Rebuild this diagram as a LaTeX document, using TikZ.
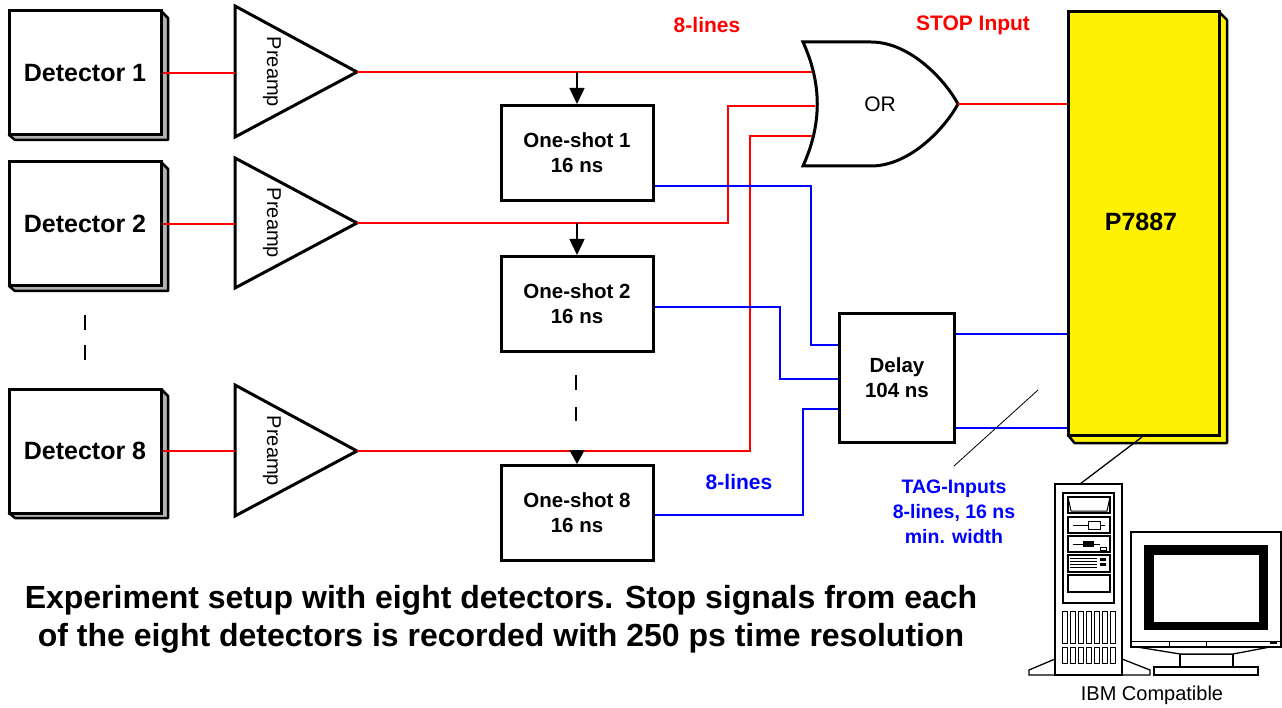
\documentclass[tikz,border=0pt]{standalone}
\usepackage{fontspec}
\setmainfont{Liberation Sans}
\usetikzlibrary{arrows.meta,backgrounds,positioning,calc}

\tikzset{
  detbox/.style={draw,line width=3pt,fill=white,minimum width=152pt,minimum height=124pt,
    font=\bfseries\fontsize{25}{28}\selectfont},
  shotbox/.style={draw,line width=3pt,fill=white,minimum width=152pt,minimum height=95pt,
    align=center,font=\bfseries\fontsize{20.5}{25}\selectfont},
  extrude/.style={draw,line width=2.5pt,fill=black!30},
  stopsig/.style={red,line width=2pt},
  tagsig/.style={blue,line width=2pt},
  lbl/.style={font=\bfseries\fontsize{21}{25}\selectfont,align=center},
  pc/.style={draw,line width=1.3pt,fill=white}
}

\begin{document}
\begin{tikzpicture}[x=1pt,y=-1pt]
	\useasboundingbox (0,0) rectangle (1282,708);
	% detectors
	\node[detbox] (det1) at (85,73) {Detector 1};
	\node[detbox] (det2) at (85,224) {Detector 2};
	\node[detbox] (det8) at (85,451) {Detector 8};
	\begin{scope}[on background layer]
	\foreach \d in {det1,det2,det8}
	  \draw[extrude,line join=round] ($(\d.north east)+(-1.5,1.5)$) -- ++(7,7) -- ($(\d.south east)+(5.5,3.5)$) -- ($(\d.south west)+(7.5,3.5)$) -- ($(\d.south west)+(1.5,-1.5)$) -- cycle;
	\end{scope}
	\draw[line width=1.5pt] (85,315)--(85,330);
	\draw[line width=1.5pt] (85,345)--(85,360);
	% preamps
	\draw[line width=3pt,line join=miter] (235,6)--(357,72)--(235,137)--cycle;
	\draw[line width=3pt,line join=miter] (235,158)--(357,223)--(235,288)--cycle;
	\draw[line width=3pt,line join=miter] (235,385)--(357,451)--(235,516)--cycle;
	\coordinate (amp1) at (357,72);
	\coordinate (amp2) at (357,223);
	\coordinate (amp8) at (357,451);
	\node[rotate=-90,font=\fontsize{20}{24}\selectfont] at (272,72) {Preamp};
	\node[rotate=-90,font=\fontsize{20}{24}\selectfont] at (272,223) {Preamp};
	\node[rotate=-90,font=\fontsize{20}{24}\selectfont] at (272,451) {Preamp};
	\draw[stopsig] (det1.east)--(235,73);
	\draw[stopsig] (det2.east)--(235,224);
	\draw[stopsig] (det8.east)--(235,451);
	% OR gate
	\draw[line width=3pt,fill=white,line join=miter] (803,42) -- (871,42)
	  .. controls (910,42) and (945,80) .. (958,104)
	  .. controls (945,128) and (910,166) .. (871,166) -- (803,166)
	  .. controls (822,124) and (822,84) .. cycle;
	\node[font=\fontsize{21}{24}\selectfont] (or) at (880,104) {OR};
	\coordinate (orout) at (958,104);
	% one-shots
	\node[shotbox] (os1) at (577,153) {One-shot 1\\16 ns};
	\node[shotbox] (os2) at (577,304) {One-shot 2\\16 ns};
	\node[shotbox] (os8) at (577,513) {One-shot 8\\16 ns};
	\draw[line width=1.5pt] (576,375)--(576,390);
	\draw[line width=1.5pt] (576,407)--(576,421);
	% delay
	\node[draw,line width=3pt,fill=white,minimum width=115pt,minimum height=129pt,
	  align=center,font=\bfseries\fontsize{20.5}{25}\selectfont] (delay) at (897,378) {Delay\\104 ns};
	% P7887
	\node[draw,line width=3pt,fill=yellow,minimum width=151pt,minimum height=423pt] (tdc) at (1143.5,223.5) {};
	\begin{scope}[on background layer]
	  \draw[line width=2.5pt,fill=yellow,line join=round] ($(tdc.north east)+(-1.5,1.5)$) -- ++(8,8) -- ($(tdc.south east)+(6.5,6.5)$) -- ($(tdc.south west)+(8,6.5)$) -- ($(tdc.south west)+(1.5,-1.5)$) -- cycle;
	\end{scope}
	\node[font=\bfseries\fontsize{25}{28}\selectfont] (tdclbl) at (1141,222) {P7887};
	% stop lines
	\draw[stopsig] (amp1)--(812,72);
	\draw[stopsig] (amp2)--(728,223)--(728,106)--(815,106);
	\draw[stopsig] (amp8)--(750,451)--(750,136)--(812,136);
	\draw[stopsig] (orout)--(tdc.west |- orout);
	\draw[-{Triangle[length=16pt,width=15pt]},line width=1.5pt] (577,72)--(os1.north);
	\draw[-{Triangle[length=16pt,width=15pt]},line width=1.5pt] (577,223)--(os2.north);
	\draw[-{Triangle[length=14pt,width=15pt]},line width=1.5pt] (577,451)--(os8.north);
	% tag lines
	\draw[tagsig] (os1.east |- 0,186)--(811,186)--(811,345)--(delay.west |- 0,345);
	\draw[tagsig] (os2.east |- 0,307)--(780,307)--(780,379)--(delay.west |- 0,379);
	\draw[tagsig] (os8.east |- 0,515)--(803,515)--(803,409)--(delay.west |- 0,409);
	\draw[tagsig] (delay.east |- 0,334)--(tdc.west |- 0,334);
	\draw[tagsig] (delay.east |- 0,428)--(tdc.west |- 0,428);
	\draw[line width=0.8pt] (954,466)--(1038,390);
	% labels
	\node[lbl,red] (lines1) at (707,25) {8-lines};
	\node[lbl,red] (stoplbl) at (973,25) {STOP Input};
	\node[lbl,blue] (lines2) at (739,482) {8-lines};
	\node[lbl,blue,font=\bfseries\fontsize{19.5}{25}\selectfont] (taglbl) at (954,512) {TAG-Inputs\\8-lines, 16 ns\\min. width};
	\node[align=center,font=\bfseries\fontsize{32}{38}\selectfont] (caption) at (501,619)
	  {Experiment setup with eight detectors. Stop signals from each\\of the eight detectors is recorded with 250 ps time resolution};
	% computer
	\coordinate (pctop) at (1080,484);
	\draw[line width=1.3pt] (1142,437)--(pctop);
	\draw[pc] (1029,675)--(1029,670)--(1055,659)--(1122,659)--(1150,670)--(1150,675)--cycle;
	\draw[pc] (1055,484) rectangle (1122,675);
	\draw[pc] (1063,493) rectangle (1114,603);
	\draw[pc] (1068,497) rectangle (1110,513);
	\draw[line width=1pt] (1068,497)--(1071,511)--(1107,511)--(1110,497);
	\draw[pc] (1068,517) rectangle (1110,533);
	\draw[line width=1pt] (1073,525)--(1105,525);
	\draw[line width=1pt,fill=white] (1088,521) rectangle (1100,529);
	\draw[pc] (1068,536) rectangle (1110,552);
	\draw[line width=1pt] (1073,544)--(1100,544);
	\fill (1083,541) rectangle (1094,547);
	\draw[line width=1pt] (1100,547) rectangle (1106,550);
	\draw[pc] (1068,555) rectangle (1110,572);
	\foreach \yy in {558,561,564,567}
	  \draw[line width=0.8pt] (1070,\yy)--(1097,\yy);
	\fill (1100,558) rectangle (1106,561);
	\fill (1100,563) rectangle (1106,566);
	\draw[pc] (1068,575) rectangle (1110,592);
	\foreach \i in {0,...,6} {
	  \draw[line width=1pt] (1062+8*\i,611) rectangle ++(5,32);
	  \draw[line width=1pt] (1062+8*\i,647) rectangle ++(5,16);
	}
	\node[font=\fontsize{20}{24}\selectfont] (ibm) at (1152,695) {IBM Compatible};
	% monitor
	\draw[pc] (1154,667) rectangle (1258,675);
	\draw[pc] (1180,654) rectangle (1233,667);
	\draw[pc] (1137,647)--(1180,654)--(1233,654)--(1270,647);
	\draw[pc] (1131,532) rectangle (1281,647);
	\fill (1144,545) rectangle (1268,630);
	\fill[white] (1154,555) rectangle (1259,622);
	\draw[line width=1pt] (1131,641)--(1281,641);
	\draw[line width=1pt] (1169,641) rectangle (1206,647);
	\fill (1270,641) rectangle (1277,644);
\end{tikzpicture}
\end{document}
